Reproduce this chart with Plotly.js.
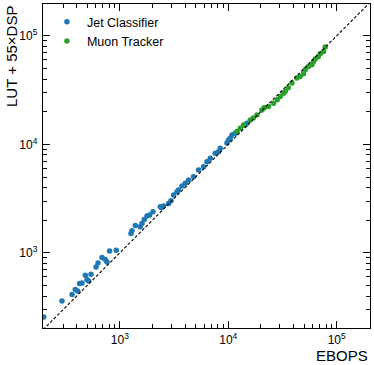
<!DOCTYPE html>
<html>
<head>
<meta charset="utf-8">
<script src="https://cdn.plot.ly/plotly-3.0.1.min.js"></script>
<style>html,body{margin:0;padding:0;background:#fff;}#chart{width:374px;height:365px;}</style>
</head>
<body>
<div id="chart"></div>
<script>
// Jet Classifier (EBOPS, LUT + 55xDSP)
var jetEbops = [199, 293, 363, 389, 409, 426, 449, 481, 499, 516, 543, 604, 630, 685, 735, 762, 805, 928,
  1268, 1295, 1390, 1545, 1602, 1682, 1781, 1883, 2023, 2362, 2413, 2534, 2818, 2965, 3133, 3367, 3483,
  3744, 4016, 4306, 4789, 5324, 5921, 6365, 6826, 7592, 8141, 8437, 9727, 10064, 10433, 10816, 11601, 14344, 14871];
var jetCost = [256, 361, 413, 459, 446, 522, 528, 622, 568, 552, 636, 743, 809, 907, 869, 826, 1043, 1059,
  1511, 1596, 1791, 1739, 1868, 2034, 2182, 2229, 2391, 2659, 2626, 2699, 2858, 3020, 3411, 3659, 3793,
  4130, 4373, 4692, 5031, 5801, 6226, 6922, 7439, 8277, 8564, 9204, 10302, 10980, 11384, 12212, 12662, 15108, 15664];
// Muon Tracker
var muonEbops = [12030, 12900, 13836, 15955, 17000, 18384, 20446, 21470, 23515, 26155, 28290, 30160, 32340, 33525,
  35730, 38650, 42970, 46070, 49430, 51250, 54960, 59070, 61120, 63360, 67520, 70450, 75540, 78340];
var muonCost = [13101, 14081, 15108, 16801, 17530, 18670, 20772, 21690, 22290, 23958, 25700, 27570, 29640, 30670,
  33180, 36670, 40770, 42180, 44670, 48640, 52180, 54090, 58000, 61060, 64120, 68340, 71780, 78820];
// y = x reference
var diagX = [100, 1000000];
var diagY = [100, 1000000];
var majorTicks = [1000, 10000, 100000];
var majorText = ['10<sup>3</sup>', '10<sup>4</sup>', '10<sup>5</sup>'];
var minorTicks = [];
[100, 1000, 10000, 100000].forEach(function (d) { for (var k = 2; k <= 9; k++) minorTicks.push(k * d); });

var FONT = 'Liberation Sans, Arial, Helvetica, sans-serif';

function axis(range) {
  return {
    type: 'log', range: range, showgrid: false, zeroline: false,
    showline: true, linecolor: '#000', linewidth: 1.3, mirror: 'allticks',
    ticks: 'inside', ticklen: 7, tickwidth: 1, tickcolor: '#000',
    tickmode: 'array', tickvals: majorTicks, ticktext: majorText,
    tickfont: {family: FONT, size: 12, color: '#000'},
    minor: {ticks: 'inside', ticklen: 4, tickwidth: 1, tickcolor: '#000', tickmode: 'array', tickvals: minorTicks, showgrid: false}
  };
}

var traces = [
  {x: jetEbops, y: jetCost, mode: 'markers', type: 'scatter', name: 'Jet Classifier',
   marker: {color: '#1f77b4', size: 5.5, line: {width: 0}}},
  {x: muonEbops, y: muonCost, mode: 'markers', type: 'scatter', name: 'Muon Tracker',
   marker: {color: '#2ca02c', size: 5.5, line: {width: 0}}},
  {x: diagX, y: diagY, mode: 'lines', type: 'scatter', showlegend: false, hoverinfo: 'skip',
   line: {color: '#000', width: 1.1, dash: '3px,2px'}}
];

var xa = axis([2.292, 5.307]);
var ya = axis([2.308, 5.293]);
ya.ticklabelstandoff = 2;

var layout = {
  width: 374, height: 365,
  margin: {l: 43, r: 4, t: 4, b: 37, pad: 0},
  paper_bgcolor: '#fff', plot_bgcolor: '#fff',
  font: {family: FONT, color: '#000'},
  xaxis: xa, yaxis: ya,
  showlegend: true,
  legend: {x: 0.012, y: 0.99, xanchor: 'left', yanchor: 'top', bgcolor: 'rgba(0,0,0,0)',
           font: {family: FONT, size: 12.5, color: '#000'}, tracegroupgap: 0},
  annotations: [
    {text: 'EBOPS', xref: 'paper', yref: 'paper', x: 1, y: 0, xanchor: 'right', yanchor: 'top',
     yshift: -17, showarrow: false, font: {family: FONT, size: 15, color: '#000'}},
    {text: 'LUT + 55×DSP', xref: 'paper', yref: 'paper', x: 0, y: 1, xanchor: 'right', yanchor: 'top',
     xshift: -21, textangle: -90, showarrow: false, font: {family: FONT, size: 15, color: '#000'}}
  ]
};

Plotly.newPlot('chart', traces, layout, {displayModeBar: false, staticPlot: true});
</script>
</body>
</html>
